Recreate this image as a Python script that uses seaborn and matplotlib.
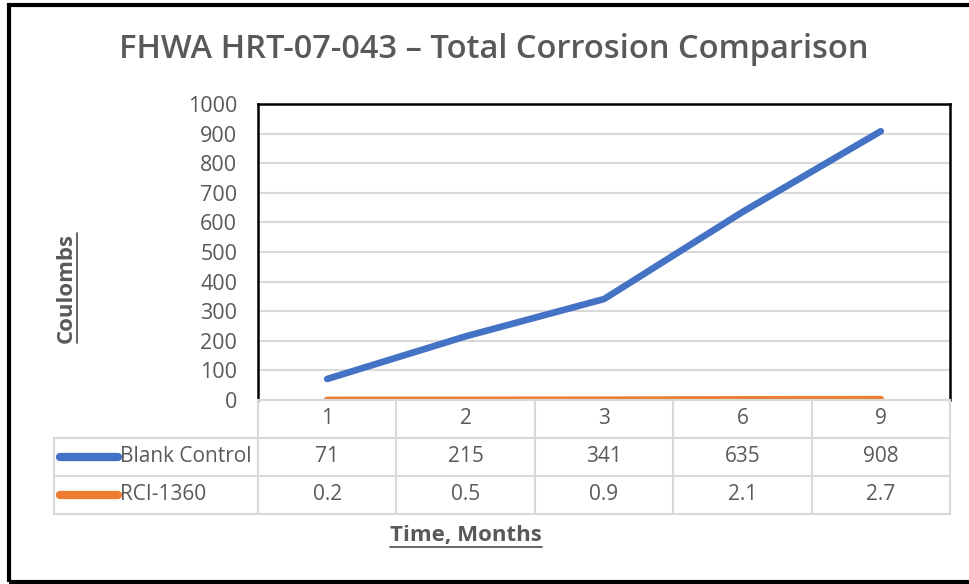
import matplotlib
matplotlib.use("Agg")
import matplotlib.pyplot as plt
from matplotlib.lines import Line2D
from matplotlib.patches import Rectangle
import seaborn as sns
import pandas as pd
import numpy as np

# ---- data ----
months = ["1", "2", "3", "6", "9"]
blank_control = [71, 215, 341, 635, 908]
rci_1360 = [0.2, 0.5, 0.9, 2.1, 2.7]
blank_labels = ["71", "215", "341", "635", "908"]
rci_labels = ["0.2", "0.5", "0.9", "2.1", "2.7"]
series_names = ["Blank Control", "RCI-1360"]
title = "FHWA HRT-07-043 \u2013 Total Corrosion Comparison"
y_ticks = list(range(0, 1001, 100))

BLUE = "#4472C4"
ORANGE = "#ED7D31"
TXT = "#595959"
GRID = "#D9D9D9"
FONT = "Open Sans"

sns.set_theme(style="white")
plt.rcParams["font.family"] = [FONT, "DejaVu Sans"]

W, H = 969, 584
fig = plt.figure(figsize=(W / 100, H / 100), dpi=100)

def fx(px):
    return px / W

def fy(py):
    return 1 - py / H

# outer frame
fig.patches.append(Rectangle((fx(9), fy(582)), fx(990) - fx(9), fy(5) - fy(582),
                             transform=fig.transFigure, fill=False,
                             edgecolor="black", linewidth=3.0, zorder=0))

# main plot axes
L, R, T, B = 258, 950, 104, 400
ax = fig.add_axes([fx(L), fy(B), fx(R) - fx(L), fy(T) - fy(B)])

df = pd.DataFrame({
    "pos": list(range(len(months))) * 2,
    "value": blank_control + rci_1360,
    "series": [series_names[0]] * len(months) + [series_names[1]] * len(months),
})
sns.lineplot(data=df, x="pos", y="value", hue="series",
             palette=[BLUE, ORANGE], linewidth=4.8, ax=ax, legend=False,
             sort=False)
for ln in ax.get_lines():
    ln.set_solid_capstyle("round")
    ln.set_solid_joinstyle("round")

ax.set_xlim(-0.5, len(months) - 0.5)
ax.set_ylim(0, 1000)
ax.set_yticks(y_ticks)
ax.set_yticklabels([str(t) for t in y_ticks], color=TXT, fontsize=15.5, family=FONT)
ax.set_xticks([])
ax.set_xlabel("")
ax.set_ylabel("")
ax.tick_params(axis="y", length=0, pad=15)
ax.yaxis.grid(True, color=GRID, linewidth=1.5)
ax.set_axisbelow(True)
for s in ["top", "left", "right"]:
    ax.spines[s].set_visible(True)
    ax.spines[s].set_color("black")
    ax.spines[s].set_linewidth(1.8)
ax.spines["bottom"].set_color(GRID)
ax.spines["bottom"].set_linewidth(1.5)

# data table axes
TL, TT, TB = 54, 400, 514
tax = fig.add_axes([fx(TL), fy(TB), fx(R) - fx(TL), fy(TT) - fy(TB)])
col_w = (R - L) / len(months)
leg_units = (L - TL) / col_w
tax.set_xlim(-0.5 - leg_units, len(months) - 0.5)
tax.set_ylim(3, 0)
tax.axis("off")

lkw = dict(color=GRID, linewidth=1.5, clip_on=False)
left_edge = -0.5 - leg_units
# horizontal lines
tax.plot([-0.5, len(months) - 0.5], [0, 0], **lkw)
for yy in [1, 2, 3]:
    tax.plot([left_edge, len(months) - 0.5], [yy, yy], **lkw)
# vertical lines
tax.plot([left_edge, left_edge], [1, 3], **lkw)
for i in range(len(months) + 1):
    tax.plot([i - 0.5, i - 0.5], [0, 3], **lkw)

cell_fs = 15
for i, m in enumerate(months):
    tax.text(i, 0.5, m, ha="center", va="center", color=TXT, fontsize=cell_fs)
    tax.text(i, 1.5, blank_labels[i], ha="center", va="center", color=TXT, fontsize=cell_fs)
    tax.text(i, 2.5, rci_labels[i], ha="center", va="center", color=TXT, fontsize=cell_fs)

key_x0 = left_edge + 6 / col_w
key_x1 = left_edge + 64 / col_w
for row, (name, col) in enumerate(zip(series_names, [BLUE, ORANGE])):
    tax.add_line(Line2D([key_x0, key_x1], [1.5 + row, 1.5 + row], color=col,
                        linewidth=6, solid_capstyle="round", clip_on=False))
    tax.text(key_x1 + 2 / col_w, 1.5 + row, name, ha="left", va="center",
             color=TXT, fontsize=cell_fs)

# title
fig.text(fx(494), fy(50), title, ha="center", va="center", color=TXT,
         fontsize=23.5, fontweight="semibold")

# axis labels with underline
ylab = fig.text(fx(66), fy(288), "Coulombs", ha="center", va="center",
                rotation=90, color=TXT, fontsize=16, fontweight="bold")
xlab = fig.text(fx(466), fy(535), "Time, Months", ha="center", va="center",
                color=TXT, fontsize=16, fontweight="bold")

fig.canvas.draw()
r = fig.canvas.get_renderer()
bb = ylab.get_window_extent(r)
fig.add_artist(Line2D([bb.x1 / W + 1 / W] * 2, [bb.y0 / H, bb.y1 / H],
                      transform=fig.transFigure, color=TXT, linewidth=1.3))
bb = xlab.get_window_extent(r)
fig.add_artist(Line2D([bb.x0 / W, bb.x1 / W], [bb.y0 / H - 1 / H] * 2,
                      transform=fig.transFigure, color=TXT, linewidth=1.3))

fig.savefig("out.png", dpi=100)
